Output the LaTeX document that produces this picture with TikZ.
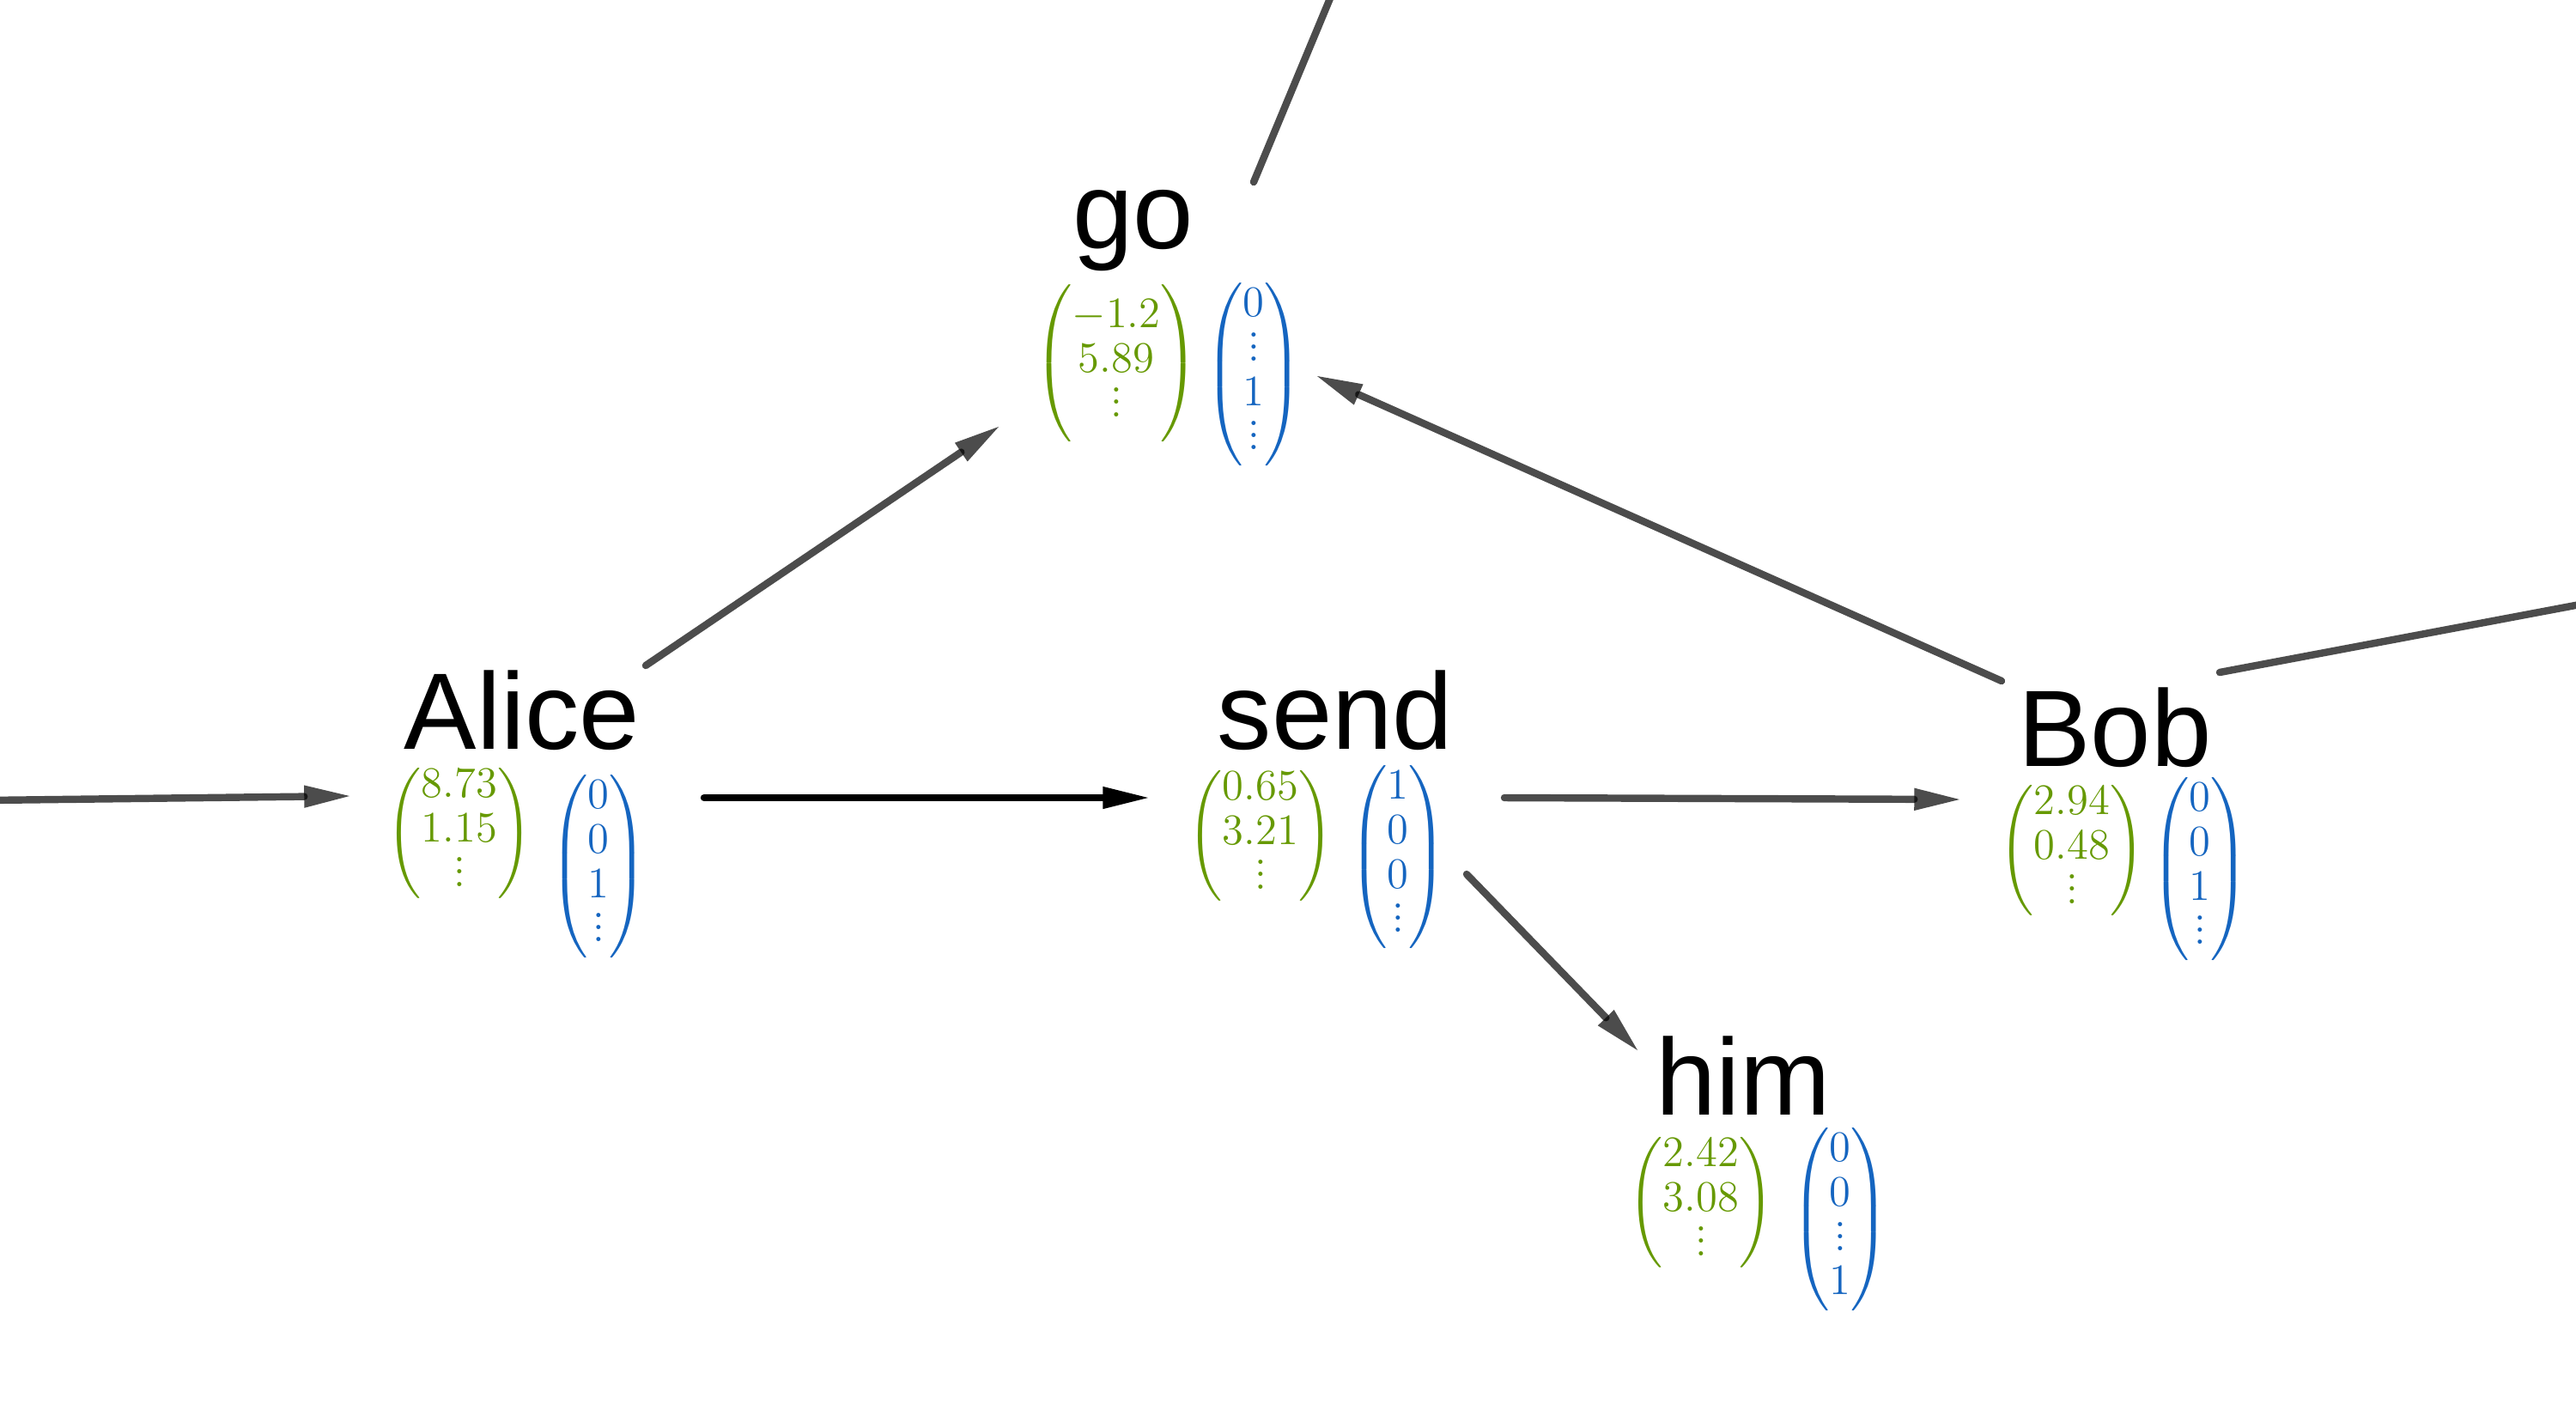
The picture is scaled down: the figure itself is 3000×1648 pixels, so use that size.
\documentclass[tikz,border=0pt]{standalone}
\usepackage{fontspec}
\newfontfamily\wordfont{Liberation Sans}
\usepackage{amsmath}
\usetikzlibrary{arrows.meta,calc}
\definecolor{vecgreen}{RGB}{102,153,0}
\definecolor{vecblue}{RGB}{21,101,192}
\newcommand{\mydots}{\vbox{\baselineskip4pt\lineskiplimit0pt\hbox{.}\hbox{.}\hbox{.}}}
\tikzset{
  word/.style={font=\wordfont\fontsize{36}{40}\selectfont, inner sep=0pt, anchor=base},
  vec/.style={inner sep=0pt, font=\fontsize{14.4}{14.7}\selectfont},
  greenvec/.style={vec, text=vecgreen},
  bluevec/.style={vec, text=vecblue},
  edgeline/.style={line width=2.4pt, draw=black, opacity=0.7, line cap=round},
  edge/.style={edgeline, -{Triangle[length=15pt,width=7.5pt,line width=0pt]}}
}
\begin{document}
\begin{tikzpicture}[x=0.01cm,y=-0.01cm]
\useasboundingbox (0,0) rectangle (3000,1648);
\fill[white] (0,0) rectangle (3000,1648);
\clip (0,0) rectangle (3000,1648);

% Alice
\node[word] (alice) at (608,872) {Alice};
\node[greenvec] (alicee) at (535,970) {$\begin{pmatrix}8.73\\1.15\\\mydots\end{pmatrix}$};
\node[bluevec] (aliceo) at (697,1009) {$\begin{pmatrix}0\\0\\1\\\mydots\end{pmatrix}$};
% send
\node[word] (send) at (1555,872) {send};
\node[greenvec] (sende) at (1468,973) {$\begin{pmatrix}0.65\\3.21\\\mydots\end{pmatrix}$};
\node[bluevec] (sendo) at (1628,998) {$\begin{pmatrix}1\\0\\0\\\mydots\end{pmatrix}$};
% Bob
\node[word] (bob) at (2463,892) {Bob};
\node[greenvec] (bobe) at (2413,990) {$\begin{pmatrix}2.94\\0.48\\\mydots\end{pmatrix}$};
\node[bluevec] (bobo) at (2562,1012) {$\begin{pmatrix}0\\0\\1\\\mydots\end{pmatrix}$};
% him
\node[word] (him) at (2030,1298) {him};
\node[greenvec] (hime) at (1981,1400) {$\begin{pmatrix}2.42\\3.08\\\mydots\end{pmatrix}$};
\node[bluevec] (himo) at (2143,1420) {$\begin{pmatrix}0\\0\\\mydots\\1\end{pmatrix}$};
% go
\node[word] (go) at (1320,289) {go};
\node[greenvec] (goe) at (1300,423) {$\left(\begin{matrix}-1.2\\5.89\\\mydots\end{matrix}\rule[-23.9pt]{0pt}{55pt}\right)$};
\node[bluevec] (goo) at (1460,436) {$\begin{pmatrix}0\\\mydots\\1\\\mydots\end{pmatrix}$};

% free ends
\coordinate (inL) at (-100,933);
\coordinate (outR) at (3100,686);
\coordinate (outT) at (1569,-50);

% connectors
\draw[edge] (inL) -- ([shift={(-201,55)}]alice.base);
\draw[edge] ([shift={(144,-97)}]alice.base) -- ([shift={(-157,208)}]go.base);
\draw[edge,opacity=1] ([shift={(212,57)}]alice.base) -- ([shift={(-218,57)}]send.base);
\draw[edge] ([shift={(197,57)}]send.base) -- ([shift={(-181,39)}]bob.base);
\draw[edge] ([shift={(153,146)}]send.base) -- ([shift={(-123,-75)}]him.base);
\draw[edge] ([shift={(-132,-99)}]bob.base) -- ([shift={(214,149)}]go.base);
\draw[edgeline] ([shift={(122,-109)}]bob.base) -- (outR);
\draw[edgeline] ([shift={(140,-77)}]go.base) -- (outT);
\end{tikzpicture}
\end{document}
